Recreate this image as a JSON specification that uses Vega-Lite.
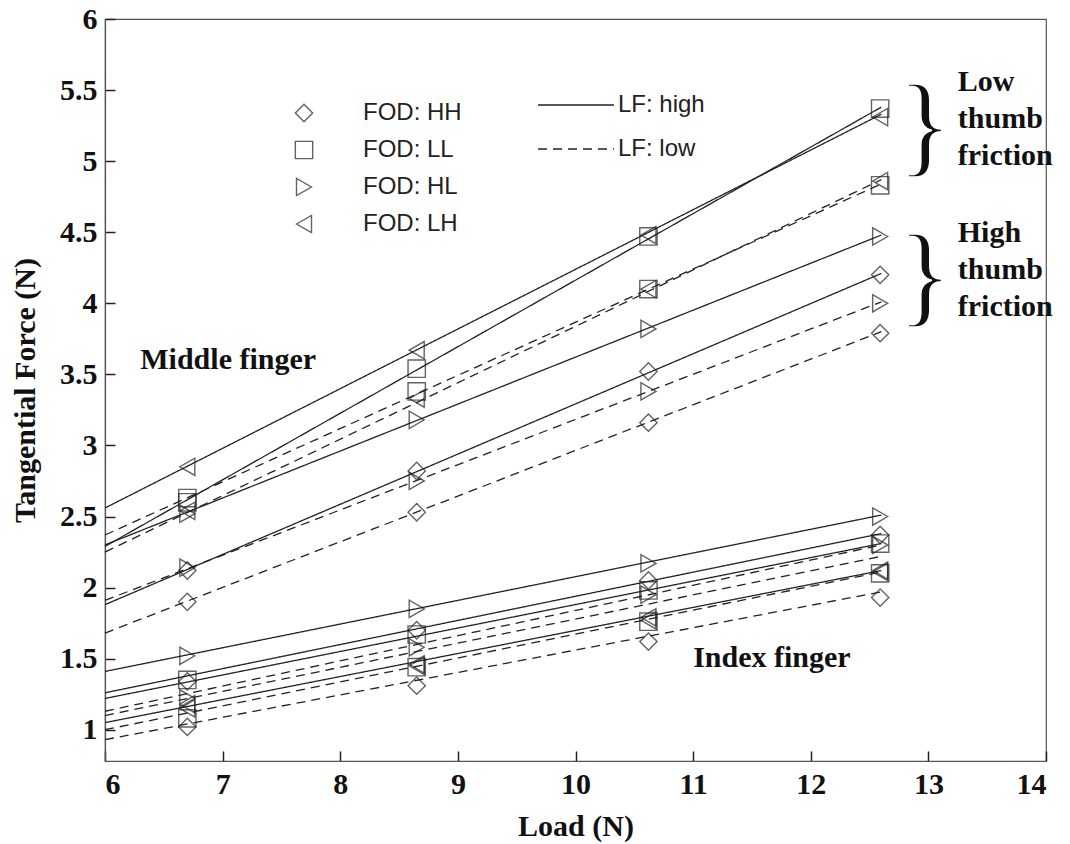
{
  "$schema": "https://vega.github.io/schema/vega-lite/v6.json",
  "width": 941,
  "height": 742,
  "autosize": {"type": "none"},
  "padding": {"left": 105, "top": 19, "right": 24, "bottom": 83},
  "background": "white",
  "config": {
    "view": {"stroke": "#555", "strokeWidth": 1.2},
    "axis": {
      "domainColor": "#555", "domainWidth": 1.2, "tickColor": "#222", "tickWidth": 1.5,
      "grid": false,
      "labelFont": "Liberation Serif", "labelFontWeight": "bold", "labelFontSize": 30, "labelColor": "#111",
      "titleFont": "Liberation Serif", "titleFontWeight": "bold", "titleFontSize": 30, "titleColor": "#111"
    }
  },
  "datasets": {
    "lines": [
      {"finger": "middle", "FOD": "LH", "LF": "high", "load": 6, "force": 2.56},
      {"finger": "middle", "FOD": "LH", "LF": "high", "load": 12.6, "force": 5.33},
      {"finger": "middle", "FOD": "LL", "LF": "high", "load": 6, "force": 2.29},
      {"finger": "middle", "FOD": "LL", "LF": "high", "load": 12.6, "force": 5.38},
      {"finger": "middle", "FOD": "LL", "LF": "low", "load": 6, "force": 2.37},
      {"finger": "middle", "FOD": "LL", "LF": "low", "load": 12.6, "force": 4.84},
      {"finger": "middle", "FOD": "LH", "LF": "low", "load": 6, "force": 2.25},
      {"finger": "middle", "FOD": "LH", "LF": "low", "load": 12.6, "force": 4.87},
      {"finger": "middle", "FOD": "HL", "LF": "high", "load": 6, "force": 2.3},
      {"finger": "middle", "FOD": "HL", "LF": "high", "load": 12.6, "force": 4.48},
      {"finger": "middle", "FOD": "HH", "LF": "high", "load": 6, "force": 1.88},
      {"finger": "middle", "FOD": "HH", "LF": "high", "load": 12.6, "force": 4.21},
      {"finger": "middle", "FOD": "HL", "LF": "low", "load": 6, "force": 1.91},
      {"finger": "middle", "FOD": "HL", "LF": "low", "load": 12.6, "force": 4.01},
      {"finger": "middle", "FOD": "HH", "LF": "low", "load": 6, "force": 1.68},
      {"finger": "middle", "FOD": "HH", "LF": "low", "load": 12.6, "force": 3.8},
      {"finger": "index", "FOD": "HL", "LF": "high", "load": 6, "force": 1.41},
      {"finger": "index", "FOD": "HL", "LF": "high", "load": 12.6, "force": 2.51},
      {"finger": "index", "FOD": "HH", "LF": "high", "load": 6, "force": 1.26},
      {"finger": "index", "FOD": "HH", "LF": "high", "load": 12.6, "force": 2.38},
      {"finger": "index", "FOD": "LL", "LF": "high", "load": 6, "force": 1.22},
      {"finger": "index", "FOD": "LL", "LF": "high", "load": 12.6, "force": 2.31},
      {"finger": "index", "FOD": "LH", "LF": "high", "load": 6, "force": 1.05},
      {"finger": "index", "FOD": "LH", "LF": "high", "load": 12.6, "force": 2.12},
      {"finger": "index", "FOD": "HL", "LF": "low", "load": 6, "force": 1.13},
      {"finger": "index", "FOD": "HL", "LF": "low", "load": 12.6, "force": 2.3},
      {"finger": "index", "FOD": "LH", "LF": "low", "load": 6, "force": 1.1},
      {"finger": "index", "FOD": "LH", "LF": "low", "load": 12.6, "force": 2.22},
      {"finger": "index", "FOD": "LL", "LF": "low", "load": 6, "force": 1.0},
      {"finger": "index", "FOD": "LL", "LF": "low", "load": 12.6, "force": 2.11},
      {"finger": "index", "FOD": "HH", "LF": "low", "load": 6, "force": 0.93},
      {"finger": "index", "FOD": "HH", "LF": "low", "load": 12.6, "force": 1.97}
    ],
    "points": [
      {"finger": "middle", "FOD": "LH", "LF": "high", "load": 6.7, "force": 2.85},
      {"finger": "middle", "FOD": "LH", "LF": "high", "load": 8.65, "force": 3.67},
      {"finger": "middle", "FOD": "LH", "LF": "high", "load": 10.62, "force": 4.48},
      {"finger": "middle", "FOD": "LH", "LF": "high", "load": 12.59, "force": 5.31},
      {"finger": "middle", "FOD": "LL", "LF": "high", "load": 6.7, "force": 2.63},
      {"finger": "middle", "FOD": "LL", "LF": "high", "load": 8.65, "force": 3.54},
      {"finger": "middle", "FOD": "LL", "LF": "high", "load": 10.62, "force": 4.47},
      {"finger": "middle", "FOD": "LL", "LF": "high", "load": 12.59, "force": 5.37},
      {"finger": "middle", "FOD": "LL", "LF": "low", "load": 6.7, "force": 2.6},
      {"finger": "middle", "FOD": "LL", "LF": "low", "load": 8.65, "force": 3.38},
      {"finger": "middle", "FOD": "LL", "LF": "low", "load": 10.62, "force": 4.1},
      {"finger": "middle", "FOD": "LL", "LF": "low", "load": 12.59, "force": 4.83},
      {"finger": "middle", "FOD": "LH", "LF": "low", "load": 6.7, "force": 2.54},
      {"finger": "middle", "FOD": "LH", "LF": "low", "load": 8.65, "force": 3.33},
      {"finger": "middle", "FOD": "LH", "LF": "low", "load": 10.62, "force": 4.1},
      {"finger": "middle", "FOD": "LH", "LF": "low", "load": 12.59, "force": 4.86},
      {"finger": "middle", "FOD": "HL", "LF": "high", "load": 6.7, "force": 2.52},
      {"finger": "middle", "FOD": "HL", "LF": "high", "load": 8.65, "force": 3.18},
      {"finger": "middle", "FOD": "HL", "LF": "high", "load": 10.62, "force": 3.82},
      {"finger": "middle", "FOD": "HL", "LF": "high", "load": 12.59, "force": 4.47},
      {"finger": "middle", "FOD": "HH", "LF": "high", "load": 6.7, "force": 2.12},
      {"finger": "middle", "FOD": "HH", "LF": "high", "load": 8.65, "force": 2.82},
      {"finger": "middle", "FOD": "HH", "LF": "high", "load": 10.62, "force": 3.52},
      {"finger": "middle", "FOD": "HH", "LF": "high", "load": 12.59, "force": 4.2},
      {"finger": "middle", "FOD": "HL", "LF": "low", "load": 6.7, "force": 2.14},
      {"finger": "middle", "FOD": "HL", "LF": "low", "load": 8.65, "force": 2.75},
      {"finger": "middle", "FOD": "HL", "LF": "low", "load": 10.62, "force": 3.38},
      {"finger": "middle", "FOD": "HL", "LF": "low", "load": 12.59, "force": 4.0},
      {"finger": "middle", "FOD": "HH", "LF": "low", "load": 6.7, "force": 1.9},
      {"finger": "middle", "FOD": "HH", "LF": "low", "load": 8.65, "force": 2.53},
      {"finger": "middle", "FOD": "HH", "LF": "low", "load": 10.62, "force": 3.16},
      {"finger": "middle", "FOD": "HH", "LF": "low", "load": 12.59, "force": 3.79},
      {"finger": "index", "FOD": "HL", "LF": "high", "load": 6.7, "force": 1.52},
      {"finger": "index", "FOD": "HL", "LF": "high", "load": 8.65, "force": 1.85},
      {"finger": "index", "FOD": "HL", "LF": "high", "load": 10.62, "force": 2.17},
      {"finger": "index", "FOD": "HL", "LF": "high", "load": 12.59, "force": 2.5},
      {"finger": "index", "FOD": "HH", "LF": "high", "load": 6.7, "force": 1.34},
      {"finger": "index", "FOD": "HH", "LF": "high", "load": 8.65, "force": 1.7},
      {"finger": "index", "FOD": "HH", "LF": "high", "load": 10.62, "force": 2.05},
      {"finger": "index", "FOD": "HH", "LF": "high", "load": 12.59, "force": 2.37},
      {"finger": "index", "FOD": "LL", "LF": "high", "load": 6.7, "force": 1.35},
      {"finger": "index", "FOD": "LL", "LF": "high", "load": 8.65, "force": 1.67},
      {"finger": "index", "FOD": "LL", "LF": "high", "load": 10.62, "force": 1.98},
      {"finger": "index", "FOD": "LL", "LF": "high", "load": 12.59, "force": 2.31},
      {"finger": "index", "FOD": "LH", "LF": "high", "load": 6.7, "force": 1.15},
      {"finger": "index", "FOD": "LH", "LF": "high", "load": 8.65, "force": 1.46},
      {"finger": "index", "FOD": "LH", "LF": "high", "load": 10.62, "force": 1.79},
      {"finger": "index", "FOD": "LH", "LF": "high", "load": 12.59, "force": 2.11},
      {"finger": "index", "FOD": "HL", "LF": "low", "load": 6.7, "force": 1.22},
      {"finger": "index", "FOD": "HL", "LF": "low", "load": 8.65, "force": 1.58},
      {"finger": "index", "FOD": "HL", "LF": "low", "load": 10.62, "force": 1.95},
      {"finger": "index", "FOD": "HL", "LF": "low", "load": 12.59, "force": 2.3},
      {"finger": "index", "FOD": "LH", "LF": "low", "load": 6.7, "force": 1.18},
      {"finger": "index", "FOD": "LH", "LF": "low", "load": 8.65, "force": 1.45},
      {"finger": "index", "FOD": "LH", "LF": "low", "load": 10.62, "force": 1.77},
      {"finger": "index", "FOD": "LH", "LF": "low", "load": 12.59, "force": 2.12},
      {"finger": "index", "FOD": "LL", "LF": "low", "load": 6.7, "force": 1.08},
      {"finger": "index", "FOD": "LL", "LF": "low", "load": 8.65, "force": 1.44},
      {"finger": "index", "FOD": "LL", "LF": "low", "load": 10.62, "force": 1.76},
      {"finger": "index", "FOD": "LL", "LF": "low", "load": 12.59, "force": 2.1},
      {"finger": "index", "FOD": "HH", "LF": "low", "load": 6.7, "force": 1.02},
      {"finger": "index", "FOD": "HH", "LF": "low", "load": 8.65, "force": 1.31},
      {"finger": "index", "FOD": "HH", "LF": "low", "load": 10.62, "force": 1.62},
      {"finger": "index", "FOD": "HH", "LF": "low", "load": 12.59, "force": 1.93}
    ],
    "notes": [
      {"label": "Middle finger", "load": 6.3, "force": 3.54},
      {"label": "Index finger", "load": 11.0, "force": 1.44},
      {"label": "Low\nthumb\nfriction", "load": 13.25, "force": 5.49},
      {"label": "High\nthumb\nfriction", "load": 13.25, "force": 4.43}
    ],
    "braces": [
      {"label": "}", "load": 12.97, "force": 5.23},
      {"label": "}", "load": 12.97, "force": 4.18}
    ]
  },
  "layer": [
    {
      "data": {"name": "lines"},
      "mark": {"type": "line", "color": "#222", "strokeWidth": 1.3},
      "encoding": {
        "x": {"field": "load", "type": "quantitative", "scale": {"domain": [6, 14], "nice": false},
              "axis": {"title": "Load (N)", "values": [6, 7, 8, 9, 10, 11, 12, 13, 14], "format": "d", "ticks": true, "tickSize": -10, "labelPadding": 18, "titleY": 74, "titleBaseline": "alphabetic"}},
        "y": {"field": "force", "type": "quantitative", "scale": {"domain": [0.78, 6], "nice": false, "zero": false},
              "axis": {"title": "Tangential Force (N)", "values": [1, 1.5, 2, 2.5, 3, 3.5, 4, 4.5, 5, 5.5, 6], "format": "~g", "ticks": true, "tickSize": -10, "labelPadding": 18, "titleX": -80, "titleY": 371, "titleBaseline": "middle", "titleAlign": "center"}},
        "detail": [{"field": "finger"}, {"field": "FOD"}],
        "strokeDash": {"field": "LF", "type": "nominal",
          "scale": {"domain": ["high", "low"], "range": [[1, 0], [9, 6]]},
          "legend": {"orient": "none", "legendX": 432, "legendY": 76, "title": null, "padding": 0,
            "labelExpr": "'LF: ' + datum.label", "labelFont": "Liberation Sans", "labelFontSize": 24, "labelColor": "#222",
            "labelOffset": 3, "clipHeight": 20, "rowPadding": 20, "symbolType": "stroke", "symbolSize": 5776, "symbolStrokeColor": "#222", "symbolStrokeWidth": 1.3}}
      }
    },
    {
      "data": {"name": "points"},
      "mark": {"type": "point", "filled": false, "color": "#222", "size": 300, "strokeWidth": 1.4},
      "encoding": {
        "x": {"field": "load", "type": "quantitative"},
        "y": {"field": "force", "type": "quantitative"},
        "shape": {"field": "FOD", "type": "nominal",
          "scale": {"domain": ["HH", "LL", "HL", "LH"], "range": ["diamond", "square", "triangle-right", "triangle-left"]},
          "legend": {"orient": "none", "legendX": 187, "legendY": 82, "title": null, "padding": 0,
            "labelExpr": "'FOD: ' + datum.label", "labelFont": "Liberation Sans", "labelFontSize": 24, "labelColor": "#222",
            "labelOffset": 47, "rowPadding": 13, "symbolSize": 300, "symbolStrokeColor": "#222", "symbolStrokeWidth": 1.4, "symbolFillColor": "transparent"}}
      }
    },
    {
      "data": {"name": "notes"},
      "mark": {"type": "text", "font": "Liberation Serif", "fontWeight": "bold", "fontSize": 30, "align": "left", "baseline": "alphabetic", "lineBreak": "\n", "lineHeight": 37, "color": "#111"},
      "encoding": {
        "x": {"field": "load", "type": "quantitative"},
        "y": {"field": "force", "type": "quantitative"},
        "text": {"field": "label"}
      }
    },
    {
      "data": {"name": "braces"},
      "mark": {"type": "text", "font": "Liberation Serif", "fontSize": 112, "align": "center", "baseline": "middle", "color": "#111", "stroke": "white", "strokeWidth": 1.6},
      "encoding": {
        "x": {"field": "load", "type": "quantitative"},
        "y": {"field": "force", "type": "quantitative"},
        "text": {"field": "label"}
      }
    }
  ]
}
